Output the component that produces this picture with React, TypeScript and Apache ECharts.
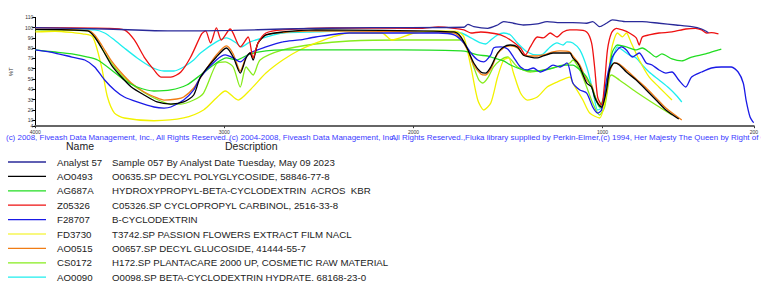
import React, { useEffect, useRef } from "react";
import * as echarts from "echarts";

// ---- data: [wavenumber cm-1, %T] ----
const analyst57 = [[4000,100],[3633,98.7],[3283,96.8],[2953,97.3],[2691,98.7],[2220,100],[1733,100.4],[1712,103.3],[1681,101],[1607,99.4],[1555,102.6],[1523,105.9],[1471,104.3],[1419,102.6],[1345,103.6],[1293,105.9],[1225,104.9],[1157,104.9],[1084,104.3],[1052,105.9],[1016,101],[979,104.3],[948,107.5],[874,105.9],[790,105.9],[701,104.3],[612,102.6],[529,101],[476,98.7],[440,95.1]];
const ao0493 = [[4000,98.4],[3722,96.8],[3686,90.9],[3649,80.2],[3597,63.6],[3544,51.9],[3492,42.2],[3424,34.4],[3356,27.6],[3283,25.6],[3215,27.6],[3162,34.4],[3126,51.9],[3042,71.4],[2989,80.2],[2953,71.4],[2916,55.8],[2885,70.5],[2864,75.3],[2848,68.5],[2822,85.1],[2780,92.9],[2691,95.8],[2518,97.8],[2167,97.3],[1785,95.8],[1749,90.9],[1712,78.3],[1681,65.6],[1644,56.8],[1618,55.8],[1591,61.7],[1555,75.3],[1523,81.2],[1487,83.1],[1450,81.2],[1419,73.4],[1382,71.4],[1345,70.5],[1314,72.4],[1262,75.3],[1173,75.3],[1157,70.5],[1136,66.6],[1120,61.7],[1084,46.1],[1058,42.2],[1042,32.4],[1026,26.6],[1005,22.7],[979,39.3],[963,58.8],[937,65.6],[911,63.6],[874,56.8],[822,49],[769,39.3],[717,29.5],[665,19.8],[597,11]];
const ag687a = [[4000,78.3],[3895,76.3],[3806,74.4],[3722,71.4],[3670,68.5],[3597,58.8],[3529,49],[3461,42.2],[3372,38.3],[3283,39.3],[3199,44.1],[3126,53.9],[3042,65.6],[2989,70.5],[2937,68.5],[2864,74.4],[2780,77.3],[2691,78.3],[2429,78.3],[2063,78.3],[1749,77.3],[1712,76.3],[1660,73.4],[1607,72.4],[1576,70.5],[1523,67.6],[1487,63.6],[1419,58.8],[1345,57.8],[1277,59.8],[1209,63.6],[1157,63.6],[1120,58.8],[1084,51.9],[1052,39.3],[1016,22.7],[989,35.4],[963,60.7],[948,76.3],[921,83.1],[874,81.2],[822,78.3],[790,80.2],[754,76.3],[717,71.4],[686,74.4],[633,69.5],[581,67.6],[529,71.4],[455,74.4],[387,78.3],[372,79.2]];
const z05326 = [[4000,100],[3618,99.4],[3529,97.8],[3476,88],[3424,71.4],[3372,58.8],[3335,51.9],[3283,51.9],[3230,56.8],[3178,71.4],[3120,93.9],[3099,96.8],[3073,85.1],[3042,99.7],[3016,88],[2969,98.7],[2916,81.2],[2874,90.9],[2848,70.5],[2822,85.1],[2780,94.8],[2691,97.8],[2429,99.7],[1958,99.4],[1869,100.7],[1785,99.4],[1733,97.8],[1696,94.8],[1644,95.8],[1591,94.8],[1539,92.9],[1487,88],[1434,80.2],[1408,73.4],[1382,81.2],[1345,90.9],[1314,90],[1277,94.8],[1241,90.9],[1209,95.8],[1173,97.8],[1136,97.8],[1084,95.8],[1058,85.1],[1042,61.7],[1026,32.4],[1005,24.6],[989,46.1],[974,78.3],[953,94.8],[927,99.4],[895,97.8],[858,94.8],[822,90],[806,83.1],[790,90.9],[754,92.9],[701,94.8],[633,95.8],[560,98.7],[508,99.4],[476,97.8],[450,94.8],[424,95.1],[387,93.9]];
const f28707 = [[4000,78.3],[3895,75.3],[3806,71.4],[3738,68.5],[3686,61.7],[3633,49],[3581,39.3],[3529,32.4],[3461,27.6],[3372,22.7],[3319,21.7],[3283,22.7],[3215,29.5],[3162,39.3],[3126,51.9],[3042,68.5],[2995,73.4],[2953,70.5],[2916,66.6],[2864,75.3],[2780,81.2],[2691,86.1],[2602,88],[2518,90.9],[2340,94.8],[2167,94.8],[2047,94.8],[1869,94.8],[1785,92.9],[1733,85.1],[1696,75.3],[1660,68.5],[1628,66.6],[1591,73.4],[1576,80.2],[1539,81.2],[1502,79.2],[1471,71.4],[1434,61.7],[1398,58.8],[1366,60.7],[1330,56.8],[1293,59.8],[1262,63.6],[1225,61.7],[1188,65.6],[1157,46.1],[1120,39.3],[1084,36.3],[1052,22.7],[1026,16.8],[1005,19.8],[979,49],[948,71.4],[900,81.2],[874,78.3],[843,71.4],[806,75.3],[769,65.6],[738,63.6],[701,58.8],[665,55.8],[633,56.8],[597,49],[560,42.2],[529,51.9],[476,56.8],[424,60.7],[372,61.7],[319,61.7],[283,56.8],[256,46.1],[241,29.5],[220,12.9],[204,8.1],[200,7.5]];
const fd3730 = [[4000,95.8],[3895,96.5],[3791,95],[3749,94],[3696,91],[3649,61.5],[3618,32.4],[3581,16.8],[3529,12],[3372,9.3],[3215,12],[3110,19.8],[3042,31.5],[2995,38.3],[2927,29.5],[2864,39.3],[2780,55.8],[2691,68.5],[2602,78.2],[2518,85],[2429,90.9],[2340,94.8],[2167,94.8],[2115,88],[1995,94.8],[1869,96.8],[1764,95.8],[1733,91],[1696,61.7],[1660,29.5],[1628,19.8],[1591,26.6],[1555,51.9],[1523,68.5],[1497,70.5],[1471,55.8],[1434,36.3],[1398,29.5],[1345,32.4],[1293,42.2],[1241,47],[1173,51.9],[1157,46],[1104,29.5],[1068,16.8],[1016,12],[979,36.3],[953,78.3],[921,94.8],[895,91],[874,94.8],[848,85],[806,68.5],[754,52],[701,42],[633,29.5]];
const ao0515 = [[4000,98.4],[3722,97.3],[3686,92.9],[3649,83.1],[3597,67.6],[3544,55.8],[3492,46.1],[3424,37.3],[3356,31.5],[3319,29.5],[3251,30.5],[3215,32.4],[3162,41.2],[3110,55.8],[3042,73.4],[2989,82.2],[2953,74.4],[2916,57.8],[2885,71.4],[2864,75.3],[2848,70.5],[2822,85.1],[2780,92.9],[2691,95.3],[2518,96.8],[2167,96.3],[1785,94.8],[1749,89],[1712,77.3],[1681,63.6],[1644,54.9],[1618,53.9],[1591,59.8],[1555,74.4],[1523,80.2],[1487,82.2],[1450,80.2],[1419,73.4],[1382,72.4],[1345,72.4],[1314,73.4],[1262,76.3],[1225,77.3],[1173,76.3],[1157,72.4],[1120,63.6],[1084,49],[1058,44.1],[1042,34.4],[1026,27.6],[1005,21.7],[979,36.3],[963,56.8],[937,65.6],[911,64.6],[874,58.8],[822,50],[769,41.2],[717,31.5],[665,21.7],[581,10]];
const cs0172 = [[4000,97.8],[3722,96.8],[3686,91.2],[3633,75.3],[3581,61.7],[3529,51],[3461,41.2],[3372,31.5],[3283,25.6],[3230,25.6],[3162,29.5],[3110,36.3],[3042,64.6],[2995,66.6],[2953,61.7],[2916,42.2],[2885,61.7],[2848,53.9],[2811,68.5],[2691,78.3],[2518,84.1],[2340,87],[2063,88],[1749,88],[1712,78.3],[1681,61.7],[1654,49],[1633,46.1],[1607,51],[1576,61.7],[1539,68.5],[1502,71.4],[1450,61.7],[1382,56.8],[1314,58.8],[1241,61.7],[1173,65.6],[1157,68.5],[1120,58.8],[1084,42.2],[1052,26.6],[1016,14.9],[989,22.7],[963,51.9],[953,53.9],[911,49],[822,37.3],[717,24.6],[633,14.9]];
const ao0090 = [[4000,98.4],[3686,97.8],[3633,94.8],[3581,88],[3529,80.2],[3461,70.5],[3387,61.7],[3319,57.8],[3267,57.8],[3215,61.7],[3162,68.5],[3126,75.3],[3042,86.1],[2989,90],[2937,85.1],[2911,81.2],[2864,86.1],[2780,90.9],[2691,94.8],[2518,95.8],[2340,96.8],[2167,96.8],[1958,95.8],[1749,94.8],[1696,90],[1644,85.1],[1618,84.1],[1591,88],[1555,92.9],[1523,94.8],[1487,92.9],[1450,85.1],[1398,76.3],[1345,73.4],[1314,74.4],[1277,81.2],[1241,85.1],[1209,83.1],[1188,86.1],[1157,85.1],[1120,78.3],[1084,61.7],[1052,39.3],[1026,19.8],[1000,22.7],[974,46.1],[948,68.5],[921,81.2],[895,78.3],[858,73.4],[822,70.5],[790,63.6],[754,56.8],[701,49],[649,41.2],[612,34.4],[581,27.6]];

const names = ["Analyst 57","AO0493","AG687A","Z05326","F28707","FD3730","AO0515","CS0172","AO0090"];
const descriptions = [
  "Sample 057 By Analyst Date Tuesday, May 09 2023",
  "O0635.SP DECYL POLYGLYCOSIDE, 58846-77-8",
  "HYDROXYPROPYL-BETA-CYCLODEXTRIN  ACROS  KBR",
  "C05326.SP CYCLOPROPYL CARBINOL, 2516-33-8",
  "B-CYCLODEXTRIN",
  "T3742.SP PASSION FLOWERS EXTRACT FILM NACL",
  "O0657.SP DECYL GLUCOSIDE, 41444-55-7",
  "H172.SP PLANTACARE 2000 UP, COSMETIC RAW MATERIAL",
  "O0098.SP BETA-CYCLODEXTRIN HYDRATE. 68168-23-0",
];
const colors = ["#2a2a9a","#000000","#22dd22","#ee1111","#1a1ae6","#f2f200","#f07c14","#86ec1c","#1eeeee"];
const seriesData = [analyst57, ao0493, ag687a, z05326, f28707, fd3730, ao0515, cs0172, ao0090];

const xTicks = [4000, 3000, 2000, 1000, 200];
const yTicks = [4, 10, 20, 30, 40, 50, 60, 70, 80, 90, 100, 110];
const copyright = [
  "(c) 2008, Fiveash Data Management, Inc., All Rights Reserved.,",
  "(c) 2004-2008, Fiveash Data Management, Inc.,",
  "All Rights Reserved.,Fluka library supplied by Perkin-Elmer,(c) 1994, Her Majesty The Queen by Right of Canada",
];

const FONT = "'Liberation Sans', Arial, sans-serif";

export default function App() {
  const ref = useRef<HTMLDivElement>(null);
  useEffect(() => {
    if (!ref.current) return;
    const chart = echarts.init(ref.current, null, { renderer: "svg" });
    const drawOrder = [8, 7, 6, 5, 2, 4, 1, 3, 0];
    const graphic: any[] = [];
    const cx = [6, 229, 391];
    copyright.forEach((t, i) =>
      graphic.push({ type: "text", x: cx[i], y: 137, style: { text: t, fill: "#3a3aff", font: `7.95px ${FONT}`, textVerticalAlign: "middle" } })
    );
    graphic.push({ type: "text", x: 66, y: 146, style: { text: "Name", fill: "#222", font: `10.5px ${FONT}`, textVerticalAlign: "middle" } });
    graphic.push({ type: "text", x: 225, y: 146, style: { text: "Description", fill: "#222", font: `10.5px ${FONT}`, textVerticalAlign: "middle" } });
    names.forEach((n, i) => {
      const y = 162 + i * 14.4;
      graphic.push({ type: "line", shape: { x1: 8, y1: y, x2: 46, y2: y }, style: { stroke: colors[i], lineWidth: i === 0 ? 1.6 : 1.2 } });
      graphic.push({ type: "text", x: 57, y, style: { text: n, fill: "#222", font: `9.7px ${FONT}`, textVerticalAlign: "middle" } });
      graphic.push({ type: "text", x: 112, y, style: { text: descriptions[i], fill: "#222", font: `9.7px ${FONT}`, textVerticalAlign: "middle" } });
    });
    chart.setOption({
      animation: false,
      backgroundColor: "#fff",
      textStyle: { fontFamily: FONT },
      grid: { left: 30, right: 4, top: 17.4, height: 108.8, containLabel: false },
      xAxis: {
        type: "value", inverse: true, min: 200, max: 4000,
        axisLine: { show: true, onZero: false, lineStyle: { color: "#666", width: 2 } },
        axisTick: { show: true, customValues: xTicks, length: 2, lineStyle: { color: "#333" } },
        axisLabel: { customValues: xTicks, fontSize: 5, color: "#333", margin: 3, showMinLabel: true, showMaxLabel: true, formatter: (v: number) => String(v) },
        splitLine: { show: false },
      },
      yAxis: {
        type: "value", min: 4, max: 110,
        name: "%T", nameLocation: "middle", nameGap: 18, nameRotate: 90,
        nameTextStyle: { fontSize: 6, color: "#333" },
        axisLine: { show: true, lineStyle: { color: "#000", width: 1 } },
        axisTick: { show: true, customValues: yTicks, length: 3, lineStyle: { color: "#000" } },
        axisLabel: { customValues: yTicks, fontSize: 5, color: "#333", margin: 2, formatter: (v: number) => String(v) },
        splitLine: { show: false },
      },
      series: drawOrder.map((i) => ({
        type: "line", name: names[i], data: seriesData[i], showSymbol: false, smooth: 0.25,
        lineStyle: { color: colors[i], width: 1.3 }, itemStyle: { color: colors[i] }, z: 2,
        clip: true,
      })),
      graphic,
    });
    return () => chart.dispose();
  }, []);
  return <div ref={ref} style={{ position: "fixed", left: 0, top: 0, width: 761, height: 281 }} />;
}
